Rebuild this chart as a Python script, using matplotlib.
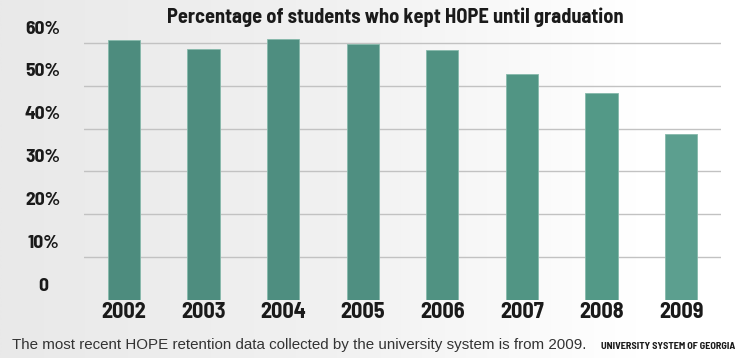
import matplotlib
matplotlib.use("Agg")
import matplotlib.pyplot as plt
import matplotlib.transforms as mtransforms
from matplotlib.colors import LinearSegmentedColormap
import numpy as np

years = ["2002", "2003", "2004", "2005", "2006", "2007", "2008", "2009"]
values = [60.7, 58.5, 60.9, 59.7, 58.3, 52.8, 48.4, 38.8]
ytick_values = [0, 10, 20, 30, 40, 50, 60]
ytick_labels = ["0", "10%", "20%", "30%", "40%", "50%", "60%"]
title = "Percentage of students who kept HOPE until graduation"
footer = "The most recent HOPE retention data collected by the university system is from 2009."
source = "UNIVERSITY SYSTEM OF GEORGIA"

bar_colors = ["#4d8c7e", "#4e8d7f", "#4e8e80", "#4f8f81", "#509282", "#519584", "#539987", "#5c9f8f"]

COND = ["Barlow Semi Condensed", "Barlow Condensed", "Asap Condensed", "DejaVu Sans"]
REG = ["Liberation Sans", "DejaVu Sans"]

W, H = 750, 358
fig = plt.figure(figsize=(W / 100, H / 100), dpi=100)
renderer = fig.canvas.get_renderer()


def fit(t, target_px):
    bb = t.get_window_extent(renderer=renderer)
    t.set_fontsize(t.get_fontsize() * target_px / bb.width)


# background gradient
bg = fig.add_axes([0, 0, 1, 1], zorder=-10)
grad = np.linspace(0, 1, 512)[None, :]
cmap = LinearSegmentedColormap.from_list("bg", [(0, "#e9e9e9"), (0.45, "#f1f1f1"), (0.85, "#ffffff"), (1, "#ffffff")])
bg.imshow(grad, aspect="auto", extent=[0, 1, 0, 1], cmap=cmap, vmin=0, vmax=1)
bg.set_xlim(0, 1)
bg.set_ylim(0, 1)
bg.axis("off")

ax_left, ax_right = 84, 721
zero_y, top_y = 300, 34.4
ax = fig.add_axes([ax_left / W, (H - zero_y) / H, (ax_right - ax_left) / W, (zero_y - top_y) / H])
ax.patch.set_alpha(0)

x = np.arange(len(years))
ax.bar(x, values, width=0.405, color=bar_colors, edgecolor="#86b9ab", linewidth=0.6, zorder=3)

ax.set_xlim(-0.5, len(years) - 0.5)
ax.set_ylim(0, 62)

ax.set_yticks([v for v in ytick_values if v > 0])
ax.set_yticklabels([])
ax.yaxis.grid(True, color="#c2c2c2", linewidth=1.0, zorder=0)
ax.set_axisbelow(True)
ax.tick_params(axis="y", length=0)

ax.set_xticks(x)
ax.set_xticklabels(years, fontsize=16, fontweight="bold", family=COND, color="#1a1a1a")
ax.tick_params(axis="x", length=0, pad=1.5)

for s in ax.spines.values():
    s.set_visible(False)

trans = mtransforms.blended_transform_factory(ax.transAxes, ax.transData) + \
    mtransforms.ScaledTranslation(0, 10 / 72, fig.dpi_scale_trans)
xlab = -(ax_left - 43) / (ax_right - ax_left)
for v, lab in zip(ytick_values, ytick_labels):
    ax.text(xlab, v, lab, transform=trans, ha="center", va="center",
            fontsize=14, fontweight="bold", family=COND, color="#1a1a1a")

t = fig.text(395 / W, 1 - 17 / H, title, ha="center", va="center", fontsize=14,
             fontweight="bold", family=COND, color="#1a1a1a")
fit(t, 455)
f = fig.text(12 / W, 1 - 349 / H, footer, ha="left", va="baseline", fontsize=10.5,
             family=REG, color="#333333")
fit(f, 578)
s = fig.text(735 / W, 1 - 349 / H, source, ha="right", va="baseline", fontsize=6,
             fontweight="bold", family=COND, color="#1a1a1a")
fit(s, 136)

fig.savefig("out.png", dpi=100)
